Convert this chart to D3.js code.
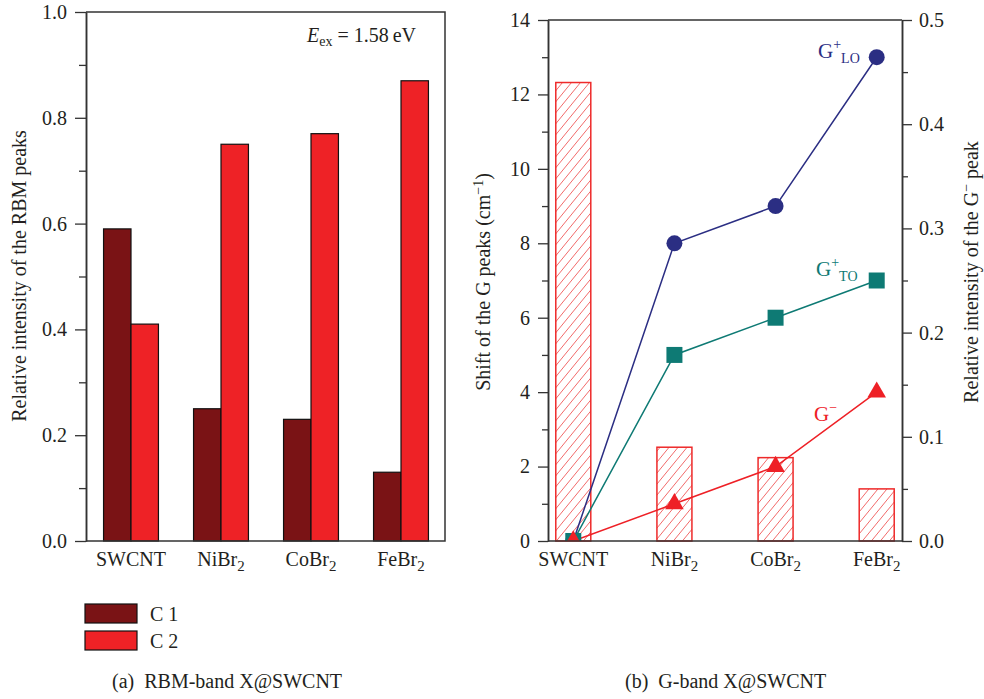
<!DOCTYPE html>
<html>
<head>
<meta charset="utf-8">
<script src="https://cdn.jsdelivr.net/npm/d3@7"></script>
<style>
  body { margin: 0; background: #fff; }
  text { font-family: "Liberation Serif", "DejaVu Serif", serif; fill: #231f20; }
</style>
</head>
<body>
<svg id="chart" width="984" height="699"></svg>
<script>
// Data
var categories = ['SWCNT', 'NiBr2', 'CoBr2', 'FeBr2'];
var series = ['C 1', 'C 2'];
var c1 = [0.59, 0.25, 0.23, 0.13];
var c2 = [0.41, 0.75, 0.77, 0.87];
var gLO = [0, 8, 9, 13];
var gTO = [0, 5, 6, 7];
var gMinus = [0, 1, 2, 4];
var gMinusIntensity = [0.44, 0.09, 0.08, 0.05];
var leftTicks = [0, 0.2, 0.4, 0.6, 0.8, 1.0];
var shiftTicks = [0, 2, 4, 6, 8, 10, 12, 14];
var intensTicks = [0, 0.1, 0.2, 0.3, 0.4, 0.5];

var colC1 = '#7a1315', colC2 = '#ee2226';
var navy = '#2b2e83', teal = '#0e7a74', red = '#ee2026';
var axisCol = '#333';

var svg = d3.select('#chart');

// category label with subscripted trailing 2
function catLabel(sel) {
    sel.each(function(d) {
        var t = d3.select(this);
        var m = d.match(/^(.*?)(\d?)$/);
        t.append('tspan').text(m[1]);
        if (m[2]) t.append('tspan').attr('dy', 5).style('font-size', '15px').text(m[2]);
    });
}

function styleAxis(g) {
    g.select('.domain').attr('stroke', axisCol).attr('stroke-width', 1.5);
    g.selectAll('.tick line').attr('stroke', axisCol).attr('stroke-width', 1.3);
    g.selectAll('.tick text').style('font-size', '20px').attr('fill', '#231f20');
}

// ---------- Panel (a) ----------
var ya = d3.scaleLinear().domain([0, 1]).range([541, 12]);
var xa = d3.scaleBand().domain(categories).range([86, 446]).paddingInner(0.39).paddingOuter(0.195);
var xa1 = d3.scaleBand().domain(series).range([0, xa.bandwidth()]);

var ga = svg.append('g');

var groups = ga.selectAll('.grp')
    .data(categories)
    .enter().append('g')
    .attr('transform', function(d) { return 'translate(' + xa(d) + ',0)'; });

groups.append('rect')
    .attr('x', xa1('C 1'))
    .attr('width', xa1.bandwidth())
    .attr('y', function(d, i) { return ya(c1[i]); })
    .attr('height', function(d, i) { return ya(0) - ya(c1[i]); })
    .attr('fill', colC1).attr('stroke', '#111').attr('stroke-width', 1.2);

groups.append('rect')
    .attr('x', xa1('C 2'))
    .attr('width', xa1.bandwidth())
    .attr('y', function(d, i) { return ya(c2[i]); })
    .attr('height', function(d, i) { return ya(0) - ya(c2[i]); })
    .attr('fill', colC2).attr('stroke', '#111').attr('stroke-width', 1.2);

// axes
ga.append('g').attr('transform', 'translate(86,0)')
    .call(d3.axisLeft(ya).tickValues([0.1, 0.3, 0.5, 0.7, 0.9]).tickSize(7).tickSizeOuter(0).tickFormat(''))
    .call(styleAxis);
ga.append('g').attr('transform', 'translate(86,0)')
    .call(d3.axisLeft(ya).tickValues(leftTicks).tickSize(11).tickPadding(8).tickSizeOuter(0).tickFormat(d3.format('.1f')))
    .call(styleAxis);

ga.append('path')
    .attr('d', 'M86,12H445V541H86')
    .attr('fill', 'none').attr('stroke', axisCol).attr('stroke-width', 1.5);

ga.selectAll('.xlab')
    .data(categories)
    .enter().append('text')
    .attr('x', function(d) { return xa(d) + xa.bandwidth() / 2; })
    .attr('y', 566)
    .attr('text-anchor', 'middle')
    .style('font-size', '20px')
    .call(catLabel);

ga.append('text')
    .attr('transform', 'translate(26,276) rotate(-90)')
    .attr('text-anchor', 'middle')
    .style('font-size', '20px')
    .text('Relative intensity of the RBM peaks');

var ann = ga.append('text').attr('x', 307).attr('y', 42).style('font-size', '20px');
ann.append('tspan').style('font-style', 'italic').text('E');
ann.append('tspan').attr('dy', 4).style('font-size', '14px').text('ex');
ann.append('tspan').attr('dy', -4).text(' = 1.58\u2009eV');

// legend
var leg = svg.append('g');
var legItems = leg.selectAll('.leg')
    .data(series)
    .enter().append('g')
    .attr('transform', function(d, i) { return 'translate(85,' + (604 + i * 27) + ')'; });
legItems.append('rect')
    .attr('width', 52).attr('height', 19)
    .attr('fill', function(d, i) { return i === 0 ? colC1 : colC2; })
    .attr('stroke', '#111').attr('stroke-width', 1.2);
legItems.append('text')
    .attr('x', 65).attr('y', 17)
    .style('font-size', '20px')
    .text(function(d) { return d; });

// ---------- Panel (b) ----------
var xb = d3.scalePoint().domain(categories).range([548, 902]).padding(0.25);
var yl = d3.scaleLinear().domain([0, 14]).range([541, 20]);
var yr = d3.scaleLinear().domain([0, 0.5]).range([541, 20]);

var gb = svg.append('g');

var defs = svg.append('defs');
var pat = defs.append('pattern')
    .attr('id', 'hatch')
    .attr('patternUnits', 'userSpaceOnUse')
    .attr('width', 9).attr('height', 11);
pat.append('rect').attr('width', 9).attr('height', 11).attr('fill', '#fff');
pat.append('path')
    .attr('d', 'M0,11L9,0M-9,11L0,0M9,11L18,0')
    .attr('stroke', '#f26a6a').attr('stroke-width', 1);

defs.append('clipPath').attr('id', 'plotb')
    .append('rect').attr('x', 548).attr('y', 20).attr('width', 354).attr('height', 521);

var barW = 35;
gb.selectAll('.hbar')
    .data(categories)
    .enter().append('rect')
    .attr('x', function(d) { return xb(d) - barW / 2; })
    .attr('width', barW)
    .attr('y', function(d, i) { return yr(gMinusIntensity[i]); })
    .attr('height', function(d, i) { return yr(0) - yr(gMinusIntensity[i]); })
    .attr('fill', 'url(#hatch)')
    .attr('stroke', '#ee2a2a').attr('stroke-width', 1.5);

var plot = gb.append('g').attr('clip-path', 'url(#plotb)');

var line = d3.line()
    .x(function(d, i) { return xb(categories[i]); })
    .y(function(d) { return yl(d); });

var lineSeries = [
    { vals: gLO, color: navy, symbol: d3.symbolCircle, size: 200 },
    { vals: gTO, color: teal, symbol: d3.symbolSquare, size: 256 },
    { vals: gMinus, color: red, symbol: d3.symbolTriangle, size: 150 }
];

lineSeries.forEach(function(s) {
    plot.append('path')
        .attr('d', line(s.vals))
        .attr('fill', 'none')
        .attr('stroke', s.color)
        .attr('stroke-width', 1.5);
});
lineSeries.forEach(function(s) {
    plot.selectAll(null)
        .data(s.vals)
        .enter().append('path')
        .attr('d', d3.symbol().type(s.symbol).size(s.size))
        .attr('transform', function(d, i) { return 'translate(' + xb(categories[i]) + ',' + yl(d) + ')'; })
        .attr('fill', s.color);
});

// axes
gb.append('g').attr('transform', 'translate(548,0)')
    .call(d3.axisLeft(yl).tickValues([1, 3, 5, 7, 9, 11, 13]).tickSize(6).tickSizeOuter(0).tickFormat(''))
    .call(styleAxis);
gb.append('g').attr('transform', 'translate(548,0)')
    .call(d3.axisLeft(yl).tickValues(shiftTicks).tickSize(10).tickPadding(8).tickSizeOuter(0))
    .call(styleAxis);
gb.append('g').attr('transform', 'translate(902,0)')
    .call(d3.axisRight(yr).tickValues([0.05, 0.15, 0.25, 0.35, 0.45]).tickSize(6).tickSizeOuter(0).tickFormat(''))
    .call(styleAxis);
gb.append('g').attr('transform', 'translate(902,0)')
    .call(d3.axisRight(yr).tickValues(intensTicks).tickSize(10).tickPadding(7).tickSizeOuter(0).tickFormat(d3.format('.1f')))
    .call(styleAxis);

gb.append('path')
    .attr('d', 'M548,20H902M548,541H902')
    .attr('fill', 'none').attr('stroke', axisCol).attr('stroke-width', 1.5);

gb.selectAll('.xlab')
    .data(categories)
    .enter().append('text')
    .attr('x', function(d) { return xb(d); })
    .attr('y', 566)
    .attr('text-anchor', 'middle')
    .style('font-size', '20px')
    .call(catLabel);

var lt = gb.append('text')
    .attr('transform', 'translate(490,282) rotate(-90)')
    .attr('text-anchor', 'middle')
    .style('font-size', '20px');
lt.append('tspan').text('Shift of the G peaks (cm');
lt.append('tspan').attr('dy', -7).style('font-size', '14px').text('\u22121');
lt.append('tspan').attr('dy', 7).text(')');

var rt = gb.append('text')
    .attr('transform', 'translate(978,272) rotate(-90)')
    .attr('text-anchor', 'middle')
    .style('font-size', '20px');
rt.append('tspan').text('Relative intensity of the G');
rt.append('tspan').attr('dy', -7).style('font-size', '14px').text('\u2212');
rt.append('tspan').attr('dy', 7).text(' peak');

// series labels
function seriesLabel(x, y, sup, sub, color) {
    var t = gb.append('text').attr('x', x).attr('y', y).style('font-size', '21px').style('fill', color);
    t.append('tspan').text('G');
    t.append('tspan').attr('dy', -9).style('font-size', '14px').text(sup);
    if (sub) t.append('tspan').attr('dy', 14).style('font-size', '14px').text(sub);
}
seriesLabel(818, 58, '+', 'LO', navy);
seriesLabel(816, 276, '+', 'TO', teal);
seriesLabel(814, 421, '\u2212', null, red);

// captions
svg.append('text').attr('x', 112).attr('y', 688).style('font-size', '20px')
    .text('(a)\u00a0\u00a0RBM-band X@SWCNT');
svg.append('text').attr('x', 625).attr('y', 688).style('font-size', '20px')
    .text('(b)\u00a0\u00a0G-band X@SWCNT');
</script>
</body>
</html>
